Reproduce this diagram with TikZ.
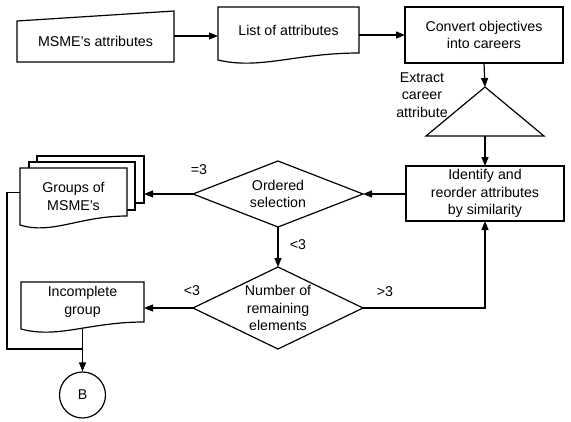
\documentclass[tikz,border=0pt]{standalone}
\usepackage{fontspec}
\setmainfont{Liberation Sans}
\usetikzlibrary{shapes.geometric,arrows.meta,backgrounds}
\begin{document}
\begin{tikzpicture}[x=1pt,y=-1pt,
  font=\fontsize{14.2}{17.5}\selectfont,
  line/.style={line width=1.2pt},
  arr/.style={line,-{Triangle[length=9pt,width=7pt]}},
  box/.style={draw=none,inner sep=0pt,outer sep=0pt,align=center},
  rectbox/.style={box,draw,line},
  sheet/.style={box,draw,line,fill=white},
  shp/.style={line,line join=miter},
  decision/.style={diamond,draw,line,inner sep=0pt,outer sep=0pt,align=center},
  lbl/.style={inner sep=0pt,align=center}
]
\useasboundingbox (0,0) rectangle (571,421);

% manual input
\node[box,minimum width=157pt,minimum height=41pt] (msme) at (95.5,41.5) {MSME’s attributes};
\draw[shp] (msme.south west) -- (msme.north west) -- ([yshift=10pt]msme.north east) -- (msme.south east) -- cycle;

% document: list of attributes
\node[box,minimum width=141pt,minimum height=46pt] (list) at (288.5,30) {List of attributes};
\draw[shp] (list.north west) -- (list.north east) -- (list.south east)
  .. controls +(-63,0) and +(42,10) .. ([yshift=-7pt]list.south west) -- cycle;

% process boxes
\node[rectbox,minimum width=158pt,minimum height=56pt] (convert) at (484,35) {Convert objectives\\into careers};
\node[rectbox,minimum width=158pt,minimum height=55pt] (identify) at (485,193.5) {Identify and\\reorder attributes\\by similarity};

% extract triangle
\node[box,minimum width=118pt,minimum height=49pt] (ext) at (485,111.5) {};
\draw[shp] (ext.south west) -- (ext.north) -- (ext.south east) -- cycle;
\node[lbl] (extl) at (422,95) {Extract\\career\\attribute};

% decisions
\node[decision,shape aspect=2.58,minimum width=170pt,minimum height=66pt] (ordered) at (278,194) {Ordered\\selection};
\node[decision,shape aspect=2.07,minimum width=170pt,minimum height=82pt] (num) at (278,308) {Number of\\remaining\\elements};

% multi-document: groups
\node[box,minimum width=107pt,minimum height=57pt] (groups) at (73.5,196.5) {Groups of\\MSME’s};
\begin{pgfonlayer}{background}
  \node[sheet,minimum width=107pt,minimum height=47pt] (gb) at (90.5,179.5) {};
  \node[sheet,minimum width=106pt,minimum height=48pt] (gm) at (82,186) {};
  \draw[shp,fill=white] (groups.north west) -- (groups.north east) -- ([yshift=9pt]groups.south east)
    .. controls +(-48,0) and +(32,10) .. (groups.south west) -- cycle;
\end{pgfonlayer}

% document: incomplete group
\node[box,minimum width=123pt,minimum height=40pt] (incomplete) at (82.5,302) {Incomplete\\group};
\draw[shp] (incomplete.north west) -- (incomplete.north east) -- (incomplete.south east)
  .. controls +(-55,0) and +(37,10) .. ([yshift=-7pt]incomplete.south west) -- cycle;

% connector B
\node[circle,draw,line,minimum size=46pt,inner sep=0pt] (B) at (82.5,395) {B};

% connectors
\draw[arr] ([yshift=5.5pt]msme.east) -- ([yshift=5.5pt]msme.east -| list.west);
\draw[arr] (list.east |- convert.west) -- (convert.west);
\draw[arr] (convert.south) -- (ext.north);
\draw[arr] (ext.south) -- (identify.north);
\draw[arr] (identify.west |- ordered.east) -- (ordered.east);
\draw[arr] (ordered.west) -- (ordered.west -| gb.east);
\draw[arr] (ordered.south) -- (num.north);
\draw[arr] (num.west) -- (num.west -| incomplete.east);
\draw[arr] (num.east) -| (identify.south);
\coordinate (join) at (incomplete.south |- 0,349);
\draw[line] ([yshift=4pt]groups.west) -- ++(-13,0) |- (join);
\draw[arr] ([yshift=-7pt]incomplete.south) -- (B.north);

% labels
\node[lbl] (l1) at (199,170) {=3};
\node[lbl] (l2) at (298,245) {<3};
\node[lbl] (l3) at (192,291) {<3};
\node[lbl] (l4) at (385,292) {>3};
\end{tikzpicture}
\end{document}
